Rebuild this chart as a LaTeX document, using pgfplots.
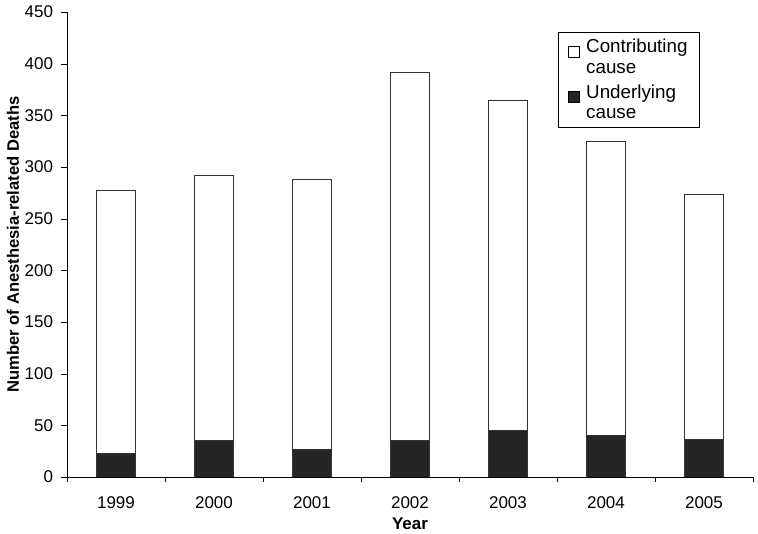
\documentclass[border=0pt]{standalone}
\usepackage{pgfplots}
\pgfplotsset{compat=1.18}
\usepackage{fontspec}
\setmainfont{Liberation Sans}
\definecolor{darkbar}{HTML}{252525}
\begin{document}
\begin{tikzpicture}
\useasboundingbox (0pt,0pt) rectangle (758pt,534pt);
\begin{axis}[
  at={(67pt,57pt)}, anchor=south west,
  scale only axis, width=686pt, height=465pt,
  ybar stacked, bar width=39pt,
  xmin=-0.5, xmax=6.5, ymin=0, ymax=450,
  ytick={0,50,...,450},
  xtick={0,...,6},
  xticklabels={1999,2000,2001,2002,2003,2004,2005},
  minor xtick={-0.5,0.5,...,6.5},
  major x tick style={draw=none},
  minor x tick style={black},
  y tick style={black},
  tick align=outside,
  major tick length=6pt, minor tick length=5pt,
  axis x line*=bottom, axis y line*=left,
  axis line style={black, -},
  ticklabel style={font=\fontsize{17}{20}\selectfont},
  xticklabel style={yshift=-10pt},
  yticklabel style={xshift=-4.5pt},
  /pgf/number format/assume math mode=true,
  xlabel={\textbf{Year}}, ylabel={\textbf{Number of Anesthesia-related Deaths}},
  xlabel style={font=\fontsize{17}{20}\selectfont, at={(axis description cs:0.5,0)}, yshift=-47pt, anchor=center},
  ylabel style={font=\fontsize{16.6}{20}\selectfont, at={(axis description cs:0,0.5)}, rotate=0, yshift=54pt, anchor=center},
  reverse legend,
  legend style={at={(0.716,0.957)}, anchor=north west, draw=black,
    font=\fontsize{18.8}{20.5}\selectfont, cells={align=left, anchor=west},
    inner xsep=10pt, inner ysep=5pt, row sep=6pt, column sep=4pt},
  legend image code/.code={\draw[#1, draw=black] (0pt,0pt) rectangle (11pt,11pt);},
]
\addplot[fill=darkbar, draw=black!80, line width=0.8pt] coordinates {(0,23) (1,35) (2,27) (3,35) (4,45) (5,40) (6,36)};
\addplot[fill=white, draw=black!80, line width=0.8pt] coordinates {(0,254) (1,257) (2,261) (3,357) (4,319) (5,285) (6,237)};
\legend{Underlying\\cause, Contributing\\cause}
\end{axis}
\end{tikzpicture}
\end{document}
